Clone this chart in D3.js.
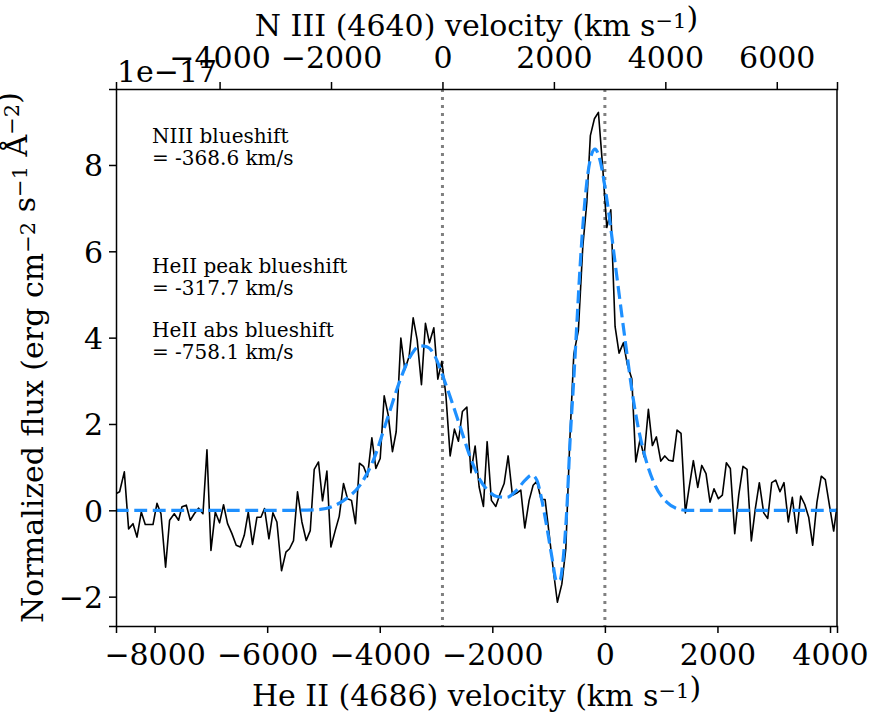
<!DOCTYPE html>
<html>
<head>
<meta charset="utf-8">
<script src="https://cdn.jsdelivr.net/npm/d3@7"></script>
<style>
  body { margin: 0; background: #fff; }
  svg { display: block; font-family: "DejaVu Serif", serif; }
</style>
</head>
<body>
<div id="chart"></div>
<script>
// He II spectrum, velocity (km/s) vs normalized flux (1e-17)
const heII = [[-8752,0.38],[-8681,0.39],[-8622,0.43],[-8538,0.89],[-8462,-0.43],[-8384,-0.31],[-8313,-0.62],[-8237,-0.04],[-8166,-0.33],[-8095,-0.33],[-8029,-0.33],[-7958,0.16],[-7887,-0.08],[-7805,-1.32],[-7734,-0.23],[-7651,-0.08],[-7574,-0.23],[-7514,0.08],[-7437,0.12],[-7366,-0.23],[-7295,-0.08],[-7219,0.05],[-7141,-0.08],[-7070,1.40],[-6999,-0.93],[-6922,-0.04],[-6846,-0.29],[-6775,0.13],[-6704,-0.31],[-6626,-0.54],[-6550,-0.81],[-6478,-0.85],[-6407,-0.58],[-6336,-0.04],[-6260,-0.79],[-6182,-0.16],[-6111,-0.16],[-6047,0.04],[-5969,-0.66],[-5898,-0.06],[-5827,-0.27],[-5745,-1.40],[-5667,-0.97],[-5603,-0.89],[-5532,-0.70],[-5461,0.43],[-5383,-0.27],[-5306,-0.70],[-5235,-0.47],[-5164,0.95],[-5088,1.12],[-5017,0.22],[-4939,0.91],[-4868,-0.85],[-4791,-0.47],[-4720,-0.14],[-4644,0.62],[-4573,0.27],[-4502,0.23],[-4431,-0.31],[-4360,1.09],[-4289,1.02],[-4218,0.78],[-4140,1.68],[-4069,0.97],[-3992,1.20],[-3921,2.65],[-3850,2.21],[-3774,1.36],[-3708,1.82],[-3625,3.99],[-3554,3.26],[-3477,3.57],[-3406,4.46],[-3335,3.95],[-3259,2.91],[-3188,4.33],[-3117,3.88],[-3039,4.23],[-2968,3.04],[-2897,3.45],[-2825,2.67],[-2749,1.26],[-2673,1.88],[-2602,1.60],[-2531,2.29],[-2452,2.39],[-2381,0.87],[-2305,1.49],[-2234,0.54],[-2158,0.09],[-2092,1.59],[-2016,0.23],[-1938,0.09],[-1861,0.39],[-1790,0.62],[-1719,1.26],[-1643,0.35],[-1565,0.40],[-1494,0.47],[-1423,-0.41],[-1346,0.23],[-1275,0.58],[-1209,0.67],[-1133,0.25],[-1062,0.25],[-991,-0.54],[-915,-1.40],[-844,-2.13],[-765,-1.71],[-694,-0.89],[-623,1.63],[-552,3.62],[-471,4.17],[-392,6.12],[-321,7.13],[-258,8.68],[-186,9.07],[-115,9.22],[-37,7.91],[34,6.55],[105,6.96],[181,4.26],[252,3.64],[329,3.88],[400,3.37],[478,3.05],[549,1.12],[625,1.64],[696,1.24],[773,2.34],[844,1.50],[915,1.70],[993,1.14],[1064,1.26],[1135,1.16],[1211,1.14],[1282,1.86],[1353,1.78],[1430,-0.06],[1501,0.56],[1572,1.15],[1650,0.53],[1721,1.04],[1797,0.85],[1868,0.19],[1939,0.50],[2016,0.27],[2087,0.35],[2158,1.10],[2229,0.97],[2307,-0.54],[2378,0.35],[2454,1.02],[2525,0.95],[2602,-0.71],[2673,0.04],[2744,0.64],[2822,-0.06],[2893,-0.19],[2964,0.64],[3035,0.70],[3111,0.43],[3182,0.64],[3259,-0.27],[3330,0.30],[3408,-0.53],[3479,0.33],[3550,0.14],[3621,-0.16],[3692,-0.81],[3768,0.19],[3845,0.79],[3916,0.71],[3994,0.08],[4065,-0.48],[4118,0.04]];

// fitted model (blue dashed)
const fit = [[-8690,0],[-5600,0],[-5300,0.005],[-5058,0.02],[-4822,0.10],[-4584,0.28],[-4347,0.59],[-4111,1.17],[-3873,2.09],[-3637,3.02],[-3460,3.56],[-3282,3.81],[-3163,3.79],[-3015,3.56],[-2897,3.17],[-2749,2.63],[-2572,1.94],[-2394,1.24],[-2216,0.70],[-2069,0.45],[-1920,0.32],[-1742,0.30],[-1565,0.47],[-1417,0.70],[-1298,0.82],[-1209,0.70],[-1121,0.24],[-1032,-0.38],[-943,-1.07],[-854,-1.65],[-796,-1.61],[-737,-1.07],[-677,0.01],[-618,1.63],[-559,2.90],[-499,4.30],[-440,5.66],[-321,7.60],[-233,8.26],[-174,8.37],[-85,8.10],[34,7.21],[211,5.43],[359,3.95],[506,2.56],[567,2.09],[714,1.24],[891,0.58],[1099,0.19],[1335,0.02],[1454,0],[4124,0]];

const bottomTicks = [-8000, -6000, -4000, -2000, 0, 2000, 4000];
const topTicks = [-4000, -2000, 0, 2000, 4000, 6000];
const yTicks = [-2, 0, 2, 4, 6, 8];
const zeroHeII = 0;   // rest velocity on the bottom axis
const zeroNIII = 0;   // rest velocity on the top axis
const notes = [
    ["NIII blueshift", "= -368.6 km/s"],
    ["HeII peak blueshift", "= -317.7 km/s"],
    ["HeII abs blueshift", "= -758.1 km/s"]
];

const margin = {top: 89, right: 36, bottom: 89, left: 116};
const W = 873, H = 715;
const width = W - margin.left - margin.right;
const height = H - margin.top - margin.bottom;

const svg = d3.select("#chart").append("svg")
    .attr("width", W)
    .attr("height", H);

const g = svg.append("g")
    .attr("transform", `translate(${margin.left},${margin.top})`);

const x = d3.scaleLinear().domain([-8686, 4124]).range([0, width]);
const xTop = d3.scaleLinear().domain([-5859, 7081]).range([0, width]);
const y = d3.scaleLinear().domain([-2.68, 9.76]).range([height, 0]);

g.append("clipPath").attr("id", "clip")
    .append("rect").attr("width", width).attr("height", height);

const plot = g.append("g").attr("clip-path", "url(#clip)");

// rest-frame markers
[xTop(zeroNIII), x(zeroHeII)].forEach(px => {
    plot.append("line")
        .attr("x1", px).attr("x2", px)
        .attr("y1", 0).attr("y2", height)
        .attr("stroke", "#808080")
        .attr("stroke-width", 3)
        .attr("stroke-dasharray", "3,5");
});

const line = d3.line().x(d => x(d[0])).y(d => y(d[1]));

plot.append("path")
    .datum(heII)
    .attr("d", line)
    .attr("fill", "none")
    .attr("stroke", "#000")
    .attr("stroke-width", 1.6)
    .attr("stroke-linejoin", "round");

plot.append("path")
    .datum(fit)
    .attr("d", line.curve(d3.curveMonotoneX))
    .attr("fill", "none")
    .attr("stroke", "#1e90ff")
    .attr("stroke-width", 3.2)
    .attr("stroke-dasharray", "12.9,5.6");

// axes
const fs = 30;

const axB = g.append("g")
    .attr("transform", `translate(0,${height})`)
    .call(d3.axisBottom(x).tickValues(bottomTicks).tickFormat(d3.format("d")).tickSize(7));
axB.selectAll("text").attr("y", 39).attr("dy", null);

const axT = g.append("g")
    .call(d3.axisTop(xTop).tickValues(topTicks).tickFormat(d3.format("d")).tickSize(7));
axT.selectAll("text").attr("y", -21).attr("dy", null);

const axL = g.append("g")
    .call(d3.axisLeft(y).tickValues(yTicks).tickFormat(d3.format("d")).tickSize(7));
axL.selectAll("text").attr("x", -13).attr("dy", "0.36em");

g.append("line").attr("x1", width).attr("x2", width).attr("y1", 0).attr("y2", height)
    .attr("stroke", "#000").attr("stroke-width", 1.5);

[axB, axT, axL].forEach(a => {
    a.select(".domain").attr("stroke-width", 1.5);
    a.selectAll(".tick line").attr("stroke-width", 1.5);
    a.selectAll("text")
        .attr("fill", "#000")
        .style("font-family", "DejaVu Serif")
        .style("font-size", fs + "px");
});

// axis titles with superscripts
function supLabel(sel, parts) {
    parts.forEach(p => {
        if (p.sup) {
            sel.append("tspan").attr("dy", -8).style("font-size", "21px").text(p.sup);
            sel.append("tspan").attr("dy", 8).text("");
        } else {
            sel.append("tspan").text(p.t);
        }
    });
}

const tB = svg.append("text")
    .attr("x", margin.left + width / 2).attr("y", 706)
    .attr("text-anchor", "middle")
    .style("font-size", fs + "px");
supLabel(tB, [{t: "He II (4686) velocity (km s"}, {sup: "\u22121"}, {t: ")"}]);

const tT = svg.append("text")
    .attr("x", margin.left + width / 2).attr("y", 36)
    .attr("text-anchor", "middle")
    .style("font-size", fs + "px");
supLabel(tT, [{t: "N III (4640) velocity (km s"}, {sup: "\u22121"}, {t: ")"}]);

const tL = svg.append("text")
    .attr("transform", `translate(43,${margin.top + height / 2}) rotate(-90)`)
    .attr("text-anchor", "middle")
    .style("font-size", fs + "px");
supLabel(tL, [{t: "Normalized flux (erg cm"}, {sup: "\u22122"}, {t: " s"}, {sup: "\u22121"}, {t: " \u00c5"}, {sup: "\u22122"}, {t: ")"}]);

// offset text
svg.append("text")
    .attr("x", margin.left + 1).attr("y", 82)
    .style("font-size", fs + "px")
    .text("1e\u221217");

// annotations
const noteRows = [143, 273, 337];
notes.forEach((n, i) => {
    const t = svg.append("text")
        .attr("x", 152).attr("y", noteRows[i])
        .style("font-size", "20px");
    t.append("tspan").attr("x", 152).text(n[0]);
    t.append("tspan").attr("x", 152).attr("dy", 22).text(n[1]);
});
</script>
</body>
</html>
